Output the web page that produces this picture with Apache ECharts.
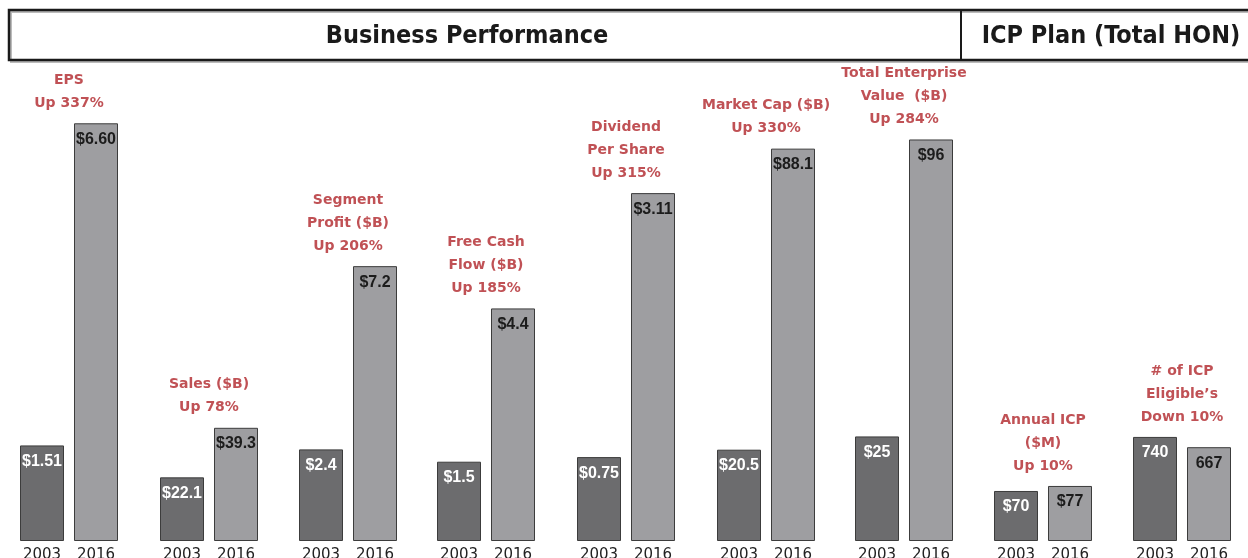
<!DOCTYPE html>
<html>
<head>
<meta charset="utf-8">
<script src="https://cdn.jsdelivr.net/npm/echarts@6/dist/echarts.min.js"></script>
<style>
  html, body { margin: 0; padding: 0; background: #fff; }
  #chart { width: 1248px; height: 558px; }
</style>
</head>
<body>
<div id="chart"></div>
<script>
// data
const years = ['2003', '2016'];
const groupTitles = [
    'EPS\nUp 337%',
    'Sales ($B)\nUp 78%',
    'Segment\nProfit ($B)\nUp 206%',
    'Free Cash\nFlow ($B)\nUp 185%',
    'Dividend\nPer Share\nUp 315%',
    'Market Cap ($B)\nUp 330%',
    'Total Enterprise\nValue  ($B)\nUp 284%',
    'Annual ICP\n($M)\nUp 10%',
    '# of ICP\nEligible\u2019s\nDown 10%'
];
const values2003 = [1.51, 22.1, 2.4, 1.5, 0.75, 20.5, 25, 70, 740];
const values2016 = [6.60, 39.3, 7.2, 4.4, 3.11, 88.1, 96, 77, 667];
const valuePrefix = ['$', '$', '$', '$', '$', '$', '$', '$', ''];
const valueDecimals = [2, 1, 1, 1, 2, 1, 0, 0, 0];

// layout: each group has its own scale
const gridLeft = [15, 155, 294, 432, 572, 712, 850, 989, 1128];
const yMax = [7.6, 167, 12.6, 9.1, 4.3, 108, 115, 673, 3420];

const colorOld = '#6c6c6e';
const colorNew = '#9e9ea1';
const titleRed = '#b0262a';

const chart = echarts.init(document.getElementById('chart'));

const grids = [], xAxes = [], yAxes = [], series = [];
groupTitles.forEach(function (title, i) {
    grids.push({ left: gridLeft[i], width: 108, top: 60, bottom: 17, outerBoundsMode: 'none' });
    xAxes.push({
        type: 'category', gridIndex: i, data: years,
        axisLine: { show: false }, axisTick: { show: false },
        axisLabel: { fontFamily: 'DejaVu Sans', fontSize: 15, color: '#222', margin: 7 }
    });
    // hidden axis used only to centre the group title
    xAxes.push({ type: 'value', gridIndex: i, min: 0, max: 1, show: false });
    yAxes.push({ type: 'value', gridIndex: i, min: 0, max: yMax[i], show: false, splitLine: { show: false } });

    const fmt = function (p) {
        return valuePrefix[i] + p.value.toFixed(valueDecimals[i]);
    };
    series.push({
        type: 'bar', xAxisIndex: i * 2, yAxisIndex: i, barWidth: 44,
        data: [
            { value: values2003[i], itemStyle: { color: colorOld }, label: { color: '#fff' } },
            { value: values2016[i], itemStyle: { color: colorNew }, label: { color: '#1c1c1c' } }
        ],
        itemStyle: { borderColor: '#3c3c3c', borderWidth: 1 },
        label: {
            show: true, position: 'insideTop', distance: 8, formatter: fmt,
            fontFamily: 'Liberation Sans', fontWeight: 'bold', fontSize: 16
        }
    });
    series.push({
        type: 'scatter', xAxisIndex: i * 2 + 1, yAxisIndex: i,
        symbolSize: 1, itemStyle: { color: 'rgba(0,0,0,0)' },
        data: [[0.5, Math.max(values2003[i], values2016[i])]],
        label: {
            show: true, position: 'top', distance: 8,
            formatter: title, color: titleRed,
            fontFamily: 'DejaVu Sans', fontWeight: 'bold', fontSize: 14, lineHeight: 23, align: 'center'
        }
    });
});

chart.setOption({
    animation: false,
    grid: grids,
    xAxis: xAxes,
    yAxis: yAxes,
    series: series,
    graphic: [
        { type: 'rect', shape: { x: 11, y: 12, width: 1250, height: 50 },
          style: { fill: 'none', stroke: '#bbb', lineWidth: 2 } },
        { type: 'rect', shape: { x: 9, y: 10, width: 1250, height: 50 },
          style: { fill: 'none', stroke: '#1a1a1a', lineWidth: 2.5 } },
        { type: 'line', shape: { x1: 961, y1: 10, x2: 961, y2: 60 },
          style: { stroke: '#1a1a1a', lineWidth: 2 } },
        { type: 'text', x: 467, y: 36,
          style: { text: 'Business Performance', fill: '#1a1a1a', align: 'center', verticalAlign: 'middle',
                   font: 'bold 25px "DejaVu Sans Condensed", "DejaVu Sans"' } },
        { type: 'text', x: 1111, y: 36,
          style: { text: 'ICP Plan (Total HON)', fill: '#1a1a1a', align: 'center', verticalAlign: 'middle',
                   font: 'bold 25px "DejaVu Sans Condensed", "DejaVu Sans"' } }
    ]
});
</script>
</body>
</html>
